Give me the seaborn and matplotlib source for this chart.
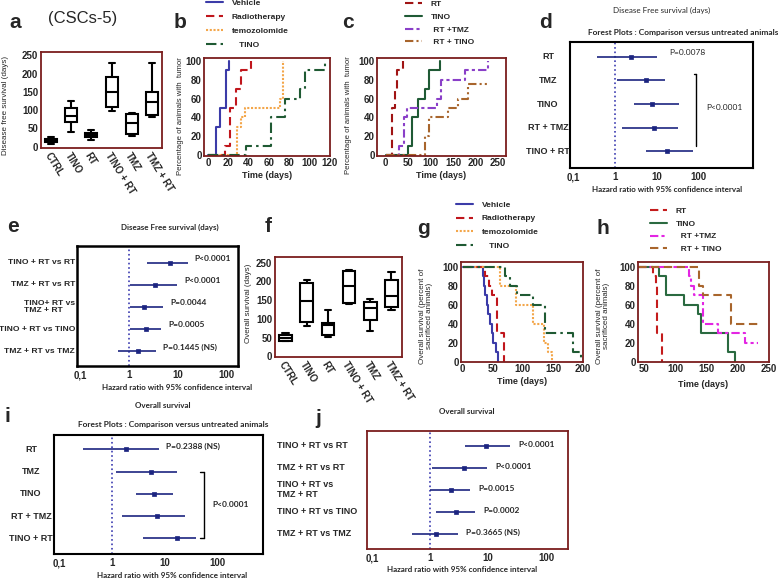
import numpy as np
import pandas as pd
import matplotlib
matplotlib.use("Agg")
import matplotlib.pyplot as plt
from matplotlib.ticker import LogLocator, NullFormatter
import seaborn as sns

W, H = 778, 579

# ---------------- box plots: a (disease free survival), f (overall survival) -------------
box_groups = ["CTRL", "TINO", "RT", "TINO + RT", "TMZ", "TMZ + RT"]
dfs_min = [8, 40, 18, 98, 30, 82]
dfs_q1 = [12, 67, 26, 109, 35, 87]
dfs_med = [18, 84, 32, 150, 64, 121]
dfs_q3 = [22, 105, 38, 190, 89, 150]
dfs_max = [27, 125, 46, 230, 92, 230]

os_min = [40, 80, 52, 140, 68, 125]
os_q1 = [42, 92, 58, 142, 98, 132]
os_med = [48, 148, 83, 187, 128, 160]
os_q3 = [58, 195, 90, 228, 145, 205]
os_max = [62, 205, 124, 230, 153, 225]

# ---------------- tumour onset (b) : time in days, % animals with tumour -----------------
b_vehicle_t = [0, 8, 12, 18, 21]
b_vehicle_pct = [0, 30, 50, 90, 100]
b_radio_t = [0, 17, 22, 27, 32, 42]
b_radio_pct = [0, 10, 50, 70, 90, 100]
b_tmz_t = [0, 28, 32, 36, 71, 74]
b_tmz_pct = [0, 30, 40, 50, 60, 100]
b_tino_t = [0, 37, 62, 76, 90, 95, 115]
b_tino_pct = [0, 10, 40, 60, 70, 90, 100]

# ---------------- tumour onset (c) -----------------
c_rt_t = [0, 14, 21, 26, 38]
c_rt_pct = [0, 50, 70, 90, 100]
c_tino_t = [0, 51, 59, 73, 88, 97, 121]
c_tino_pct = [0, 10, 40, 60, 70, 90, 100]
c_rttmz_t = [0, 30, 40, 47, 114, 123, 177, 228]
c_rttmz_pct = [0, 10, 40, 50, 60, 80, 90, 100]
c_rttino_t = [0, 88, 97, 140, 162, 184, 231]
c_rttino_pct = [0, 20, 40, 50, 60, 75, 75]

# ---------------- overall survival (g) -----------------
g_vehicle_t = [0, 33, 35, 37, 40, 42, 45, 48, 51, 55, 59]
g_vehicle_pct = [100, 90, 80, 70, 60, 50, 40, 30, 20, 10, 0]
g_radio_t = [0, 37, 43, 48, 57, 68]
g_radio_pct = [100, 90, 80, 70, 30, 0]
g_tmz_t = [0, 62, 89, 117, 135, 142, 148]
g_tmz_pct = [100, 80, 60, 40, 20, 10, 0]
g_tino_t = [0, 70, 78, 90, 117, 137, 184, 197]
g_tino_pct = [100, 90, 80, 70, 60, 30, 10, 0]

# ---------------- overall survival (h) -----------------
h_rt_t = [41, 65, 70, 72, 80]
h_rt_pct = [100, 90, 80, 30, 0]
h_tino_t = [41, 75, 85, 115, 136, 141, 185, 196]
h_tino_pct = [100, 90, 70, 60, 50, 30, 10, 0]
h_rttmz_t = [41, 123, 126, 131, 144, 168, 211, 233]
h_rttmz_pct = [100, 90, 80, 70, 40, 30, 20, 20]
h_rttino_t = [41, 139, 144, 189, 233]
h_rttino_pct = [100, 80, 70, 40, 40]

# ---------------- forest plots -----------------
d_labels = ["RT", "TMZ", "TINO", "RT + TMZ", "TINO + RT"]
d_hr = [2.4, 5.5, 7.8, 8.7, 18]
d_lo = [0.37, 1.14, 2.8, 1.5, 5.5]
d_hi = [10, 16, 35, 33, 74]

e_labels = ["TINO + RT vs RT", "TMZ + RT vs RT", "TINO+ RT vs\nTMZ + RT",
            "TINO + RT vs TINO", "TMZ + RT vs TMZ"]
e_hr = [6.8, 3.4, 2.0, 2.2, 1.5]
e_lo = [2.3, 1.03, 1.03, 1.03, 0.6]
e_hi = [16, 9.8, 5.0, 4.6, 3.6]
e_p = ["P<0.0001", "P<0.0001", "P=0.0044", "P=0.0005", "P=0.1445 (NS)"]

i_labels = ["RT", "TMZ", "TINO", "RT + TMZ", "TINO + RT"]
i_hr = [1.85, 5.5, 6.1, 7.1, 17]
i_lo = [0.28, 1.15, 2.85, 1.55, 3.8]
i_hi = [7.7, 17, 14, 24, 38]

j_labels = ["TINO + RT vs RT", "TMZ + RT vs RT", "TINO + RT vs\nTMZ + RT",
            "TINO + RT vs TINO", "TMZ + RT vs TMZ"]
j_hr = [9.0, 3.8, 2.3, 2.8, 1.27]
j_lo = [4.0, 1.07, 1.0, 1.27, 0.49]
j_hi = [23.5, 9.4, 4.85, 5.9, 3.0]
j_p = ["P<0.0001", "P<0.0001", "P=0.0015", "P=0.0002", "P=0.3665 (NS)"]

# ---------------------------------------------------------------------------
sns.set_style("white")
plt.rcParams["font.family"] = ["Liberation Sans", "DejaVu Sans"]

MAROON = "#7b1e1e"
NAVY = "#1c2580"
TICKFONT = dict(fontsize=7, fontweight="bold")
LIGHT = ["Lato", "DejaVu Sans"]

fig = plt.figure(figsize=(W / 100, H / 100), dpi=100)


def add_ax(l, t, r, b):
    return fig.add_axes([l / W, 1 - b / H, (r - l) / W, (b - t) / H])


def ftext(x, y, s, **kw):
    kw.setdefault("ha", "center")
    kw.setdefault("va", "center")
    fig.text(x / W, 1 - y / H, s, **kw)


def frame(ax, color, lw):
    for sp in ax.spines.values():
        sp.set_visible(True)
        sp.set_color(color)
        sp.set_linewidth(lw)


def box_panel(ax, mins, q1s, meds, q3s, maxs, ylim):
    rows = []
    for g, a, b, c, d, e in zip(box_groups, mins, q1s, meds, q3s, maxs):
        for v in (a, b, c, d, e):
            rows.append({"group": g, "value": v})
    df = pd.DataFrame(rows)
    sns.boxplot(data=df, x="group", y="value", order=box_groups, whis=(0, 100),
                width=0.6, color="white", linecolor="black", linewidth=1.5,
                fliersize=0, ax=ax)
    ax.set_ylim(*ylim)
    ax.set_xlim(-0.5, 5.5)
    ax.set_yticks([0, 50, 100, 150, 200, 250])
    ax.set_xlabel("")
    ax.set_ylabel("")
    frame(ax, MAROON, 1.3)
    ax.tick_params(axis="both", length=0, pad=2)
    for lab in ax.get_yticklabels():
        lab.set(**TICKFONT)
    ax.set_xticks(range(len(box_groups)))
    ax.set_xticklabels(box_groups, rotation=-58, ha="left", va="top",
                       rotation_mode="anchor", **TICKFONT)


def step_panel(ax, curves, xlim, ylim, xticks):
    for t, p, color, ls, lab in curves:
        sns.lineplot(x=t, y=p, drawstyle="steps-post", estimator=None, sort=False,
                     color=color, linestyle=ls, linewidth=1.5, ax=ax, label=lab)
    ax.set_xlim(*xlim)
    ax.set_ylim(*ylim)
    ax.set_xticks(xticks)
    ax.set_yticks([0, 20, 40, 60, 80, 100])
    frame(ax, MAROON, 1.3)
    ax.tick_params(axis="both", length=2, color=MAROON, direction="in", pad=1.5)
    for lab in ax.get_xticklabels() + ax.get_yticklabels():
        lab.set(**TICKFONT)
    ax.set_xlabel("")
    ax.set_ylabel("")


def legend_above(ax, x, y, spacing=0.75):
    ax.legend(loc="upper left", bbox_to_anchor=(x / W, 1 - y / H),
              bbox_transform=fig.transFigure, frameon=False, borderpad=0,
              borderaxespad=0, handlelength=2.0, handletextpad=1.1,
              labelspacing=spacing, prop=dict(size=6, weight="bold"))


def forest_panel(ax, hr, lo, hi, xlim, ylim, edge, edge_lw):
    rows = np.arange(len(hr))
    ax.set_xscale("log")
    ax.axvline(1, color="#3b3bb0", linestyle=":", linewidth=1.2, zorder=1)
    ax.hlines(rows, lo, hi, color=NAVY, linewidth=1.2, zorder=2)
    sns.scatterplot(x=hr, y=rows, marker="s", s=12, color=NAVY, edgecolor=NAVY,
                    linewidth=0.5, ax=ax, zorder=3, legend=False)
    ax.set_xlim(*xlim)
    ax.set_ylim(*ylim)
    ax.set_yticks([])
    ax.set_xticks([0.1, 1, 10, 100])
    ax.set_xticklabels(["0,1", "1", "10", "100"], fontsize=7, fontweight="bold")
    ax.xaxis.set_minor_locator(LogLocator(base=10, subs=np.arange(2, 10)))
    ax.xaxis.set_minor_formatter(NullFormatter())
    ax.tick_params(axis="x", which="major", length=2.5, direction="in",
                   color=MAROON, pad=3)
    ax.tick_params(axis="x", which="minor", length=1.5, direction="in",
                   color=MAROON)
    frame(ax, edge, edge_lw)
    ax.set_xlabel("")
    ax.set_ylabel("")
    return rows


# ---------------- panel a ----------------
ax_a = add_ax(41, 52, 162, 148)
box_panel(ax_a, dfs_min, dfs_q1, dfs_med, dfs_q3, dfs_max, (-3.5, 259))
ftext(6, 105, "Disease free survival (days)", rotation=90, fontsize=5.8)

# ---------------- panel f ----------------
ax_f = add_ax(275, 257, 402, 357)
box_panel(ax_f, os_min, os_q1, os_med, os_q3, os_max, (-1.6, 265))
ftext(249, 303, "Overall survival (days)", rotation=90, fontsize=5.8)

# ---------------- panel b ----------------
ax_b = add_ax(204, 58, 330, 156)
step_panel(ax_b, [
    (b_vehicle_t, b_vehicle_pct, "#3b3ba8", "-", "Vehicle"),
    (b_radio_t, b_radio_pct, "#c0161c", (0, (4, 2.2)), "Radiotherapy"),
    (b_tmz_t, b_tmz_pct, "#f3a64a", (0, (1, 0.8)), "temozolomide"),
    (b_tino_t, b_tino_pct, "#1f5a33", (0, (5, 2, 1.2, 2)), "   TINO"),
], (-4, 118), (-1, 103), [0, 20, 40, 60, 80, 100, 120])
legend_above(ax_b, 206, -1)
ax_b.set_xlabel("Time (days)", fontsize=6.5, fontweight="bold", labelpad=2)
ftext(181, 116, "Percentage of animals with  tumor", rotation=90, fontsize=5.6)

# ---------------- panel c ----------------
ax_c = add_ax(377, 58, 506, 156)
step_panel(ax_c, [
    (c_rt_t, c_rt_pct, "#a01414", (0, (4, 2.2)), "RT"),
    (c_tino_t, c_tino_pct, "#1f5a35", "-", "TINO"),
    (c_rttmz_t, c_rttmz_pct, "#8a3fc8", (0, (4, 1.5, 1.5, 1.5)), " RT +TMZ"),
    (c_rttino_t, c_rttino_pct, "#a8652c", (0, (4, 1.5, 1, 1.5, 1, 1.5)), " RT + TINO"),
], (-19, 268), (-1, 103), [0, 50, 100, 150, 200, 250])
legend_above(ax_c, 405, 0, spacing=0.6)
ax_c.set_xlabel("Time (days)", fontsize=6.5, fontweight="bold", labelpad=2)
ftext(348, 115, "Percentage of animals with  tumor", rotation=90, fontsize=5.6)

# ---------------- panel g ----------------
ax_g = add_ax(461, 262, 583, 362)
step_panel(ax_g, [
    (g_vehicle_t, g_vehicle_pct, "#3b3ba8", "-", "Vehicle"),
    (g_radio_t, g_radio_pct, "#c0161c", (0, (4, 2.2)), "Radiotherapy"),
    (g_tmz_t, g_tmz_pct, "#f3a64a", (0, (1, 0.8)), "temozolomide"),
    (g_tino_t, g_tino_pct, "#1f5a33", (0, (5, 2, 1.2, 2)), "   TINO"),
], (-3, 199), (-0.5, 105), [0, 50, 100, 150, 200])
legend_above(ax_g, 456, 201, spacing=0.7)
ax_g.set_xlabel("Time (days)", fontsize=6.5, fontweight="bold", labelpad=2)
ftext(426, 316, "Overall survival (percent of\nsacrificed animals)", rotation=90,
      fontsize=5.8, linespacing=1.1)

# ---------------- panel h ----------------
ax_h = add_ax(638, 262, 769, 362)
step_panel(ax_h, [
    (h_rt_t, h_rt_pct, "#c41c1c", (0, (4, 2.2)), "RT"),
    (h_tino_t, h_tino_pct, "#2a6a40", "-", "TINO"),
    (h_rttmz_t, h_rttmz_pct, "#e325e3", (0, (4, 1.5, 1.5, 1.5)), "  RT +TMZ"),
    (h_rttino_t, h_rttino_pct, "#a8652c", (0, (4, 2.2)), "  RT + TINO"),
], (41, 248), (-0.5, 105), [50, 100, 150, 200, 250])
legend_above(ax_h, 650, 207, spacing=0.6)
ax_h.set_xlabel("Time (days)", fontsize=6.5, fontweight="bold", labelpad=4)
ftext(603, 316, "Overall survival (percent of\nsacrificed animals)", rotation=90,
      fontsize=5.8, linespacing=1.1)

# ---------------- panel d ----------------
ax_d = add_ax(570, 42, 753, 168)
rows = forest_panel(ax_d, d_hr, d_lo, d_hi, (0.085, 2000), (4.7, -0.62), "black", 1.5)
ytr = ax_d.get_yaxis_transform()
for r, lab in zip(rows, d_labels):
    ax_d.text(-0.12, r, lab, transform=ytr, ha="center", va="center",
              fontsize=6.5, fontweight="bold")
ax_d.annotate("P=0.0078", xy=(d_hi[0], 0), xytext=(9, 3), textcoords="offset points",
              fontsize=6, family=LIGHT, va="center")
ax_d.plot([0.69, 0.69], [0.75, 3.75], transform=ytr, color="black", lw=1)
ax_d.plot([0.675, 0.69], [0.75, 0.75], transform=ytr, color="black", lw=1)
ax_d.text(0.745, 2.16, "P<0.0001", transform=ytr, fontsize=6, family=LIGHT, va="center")
ftext(662, 10, "Disease Free survival (days)", fontsize=5.8, family=LIGHT)
ftext(683, 33, "Forest Plots : Comparison versus untreated animals", fontsize=6,
      family=LIGHT, fontweight="bold")
ftext(667, 190, "Hazard ratio with 95% confidence interval", fontsize=5.8,
      family=LIGHT, fontweight="bold")

# ---------------- panel e ----------------
ax_e = add_ax(77, 246, 238, 366)
rows = forest_panel(ax_e, e_hr, e_lo, e_hi, (0.086, 173), (4.67, -0.76), "black", 1.8)
ytr = ax_e.get_yaxis_transform()
for r, lab in zip(rows, e_labels):
    ax_e.text(-0.012, r, lab, transform=ytr, ha="right", va="center",
              multialignment="left", fontsize=6.1, fontweight="bold", linespacing=1.15)
for r, hi, p in zip(rows, e_hi, e_p):
    ax_e.annotate(p, xy=(hi, r), xytext=(5, 3), textcoords="offset points",
                  fontsize=6, family=LIGHT, fontweight="bold", va="center")
ftext(170, 227, "Disease Free survival (days)", fontsize=5.8, family=LIGHT,
      fontweight="bold")
ftext(177, 388, "Hazard ratio with 95% confidence interval", fontsize=5.8,
      family=LIGHT, fontweight="bold")

# ---------------- panel i ----------------
ax_i = add_ax(54, 435, 263, 554)
rows = forest_panel(ax_i, i_hr, i_lo, i_hi, (0.078, 720), (4.7, -0.64), "black", 1.5)
ytr = ax_i.get_yaxis_transform()
for r, lab in zip(rows, i_labels):
    ax_i.text(-0.11, r, lab, transform=ytr, ha="center", va="center",
              fontsize=6.5, fontweight="bold")
ax_i.annotate("P=0.2388 (NS)", xy=(i_hi[0], 0), xytext=(5, 2), textcoords="offset points",
              fontsize=6, family=LIGHT, fontweight="bold", va="center")
ax_i.plot([0.716, 0.716], [1, 4], transform=ytr, color="black", lw=1)
ax_i.plot([0.70, 0.716], [1, 1], transform=ytr, color="black", lw=1)
ax_i.plot([0.70, 0.716], [4, 4], transform=ytr, color="black", lw=1)
ax_i.text(0.76, 2.46, "P<0.0001", transform=ytr, fontsize=6, family=LIGHT,
          fontweight="bold", va="center")
ftext(163, 406, "Overall survival", fontsize=5.8, family=LIGHT, fontweight="bold")
ftext(173, 424, "Forest Plots : Comparison versus untreated animals", fontsize=6,
      family=LIGHT, fontweight="bold")
ftext(172, 575, "Hazard ratio with 95% confidence interval", fontsize=5.8,
      family=LIGHT, fontweight="bold")

# ---------------- panel j ----------------
ax_j = add_ax(367, 431, 568, 549)
rows = forest_panel(ax_j, j_hr, j_lo, j_hi, (0.082, 236), (4.69, -0.68), MAROON, 1.3)
ytr = ax_j.get_yaxis_transform()
for r, lab in zip(rows, j_labels):
    ax_j.text(-0.447, r, lab, transform=ytr, ha="left", va="center",
              fontsize=6.5, fontweight="bold", linespacing=1.15)
for r, hi, p in zip(rows, j_hi, j_p):
    ax_j.annotate(p, xy=(hi, r), xytext=(6, 1), textcoords="offset points",
                  fontsize=6, family=LIGHT, fontweight="bold", va="center")
ftext(467, 412, "Overall survival", fontsize=5.8, family=LIGHT, fontweight="bold")
ftext(462, 570, "Hazard ratio with 95% confidence interval", fontsize=5.8,
      family=LIGHT, fontweight="bold")

# ---------------- panel letters ----------------
for letter, x, y in [("a", 15, 22), ("b", 180, 22), ("c", 348, 23), ("d", 545, 22),
                     ("e", 13, 227), ("f", 268, 227), ("g", 423, 228), ("h", 603, 228),
                     ("i", 7, 416), ("j", 318, 418)]:
    ftext(x, y, letter, fontsize=15, fontweight="bold")
ftext(83, 18, "(CSCs-5)", fontsize=12)

fig.savefig("out.png", dpi=100)
